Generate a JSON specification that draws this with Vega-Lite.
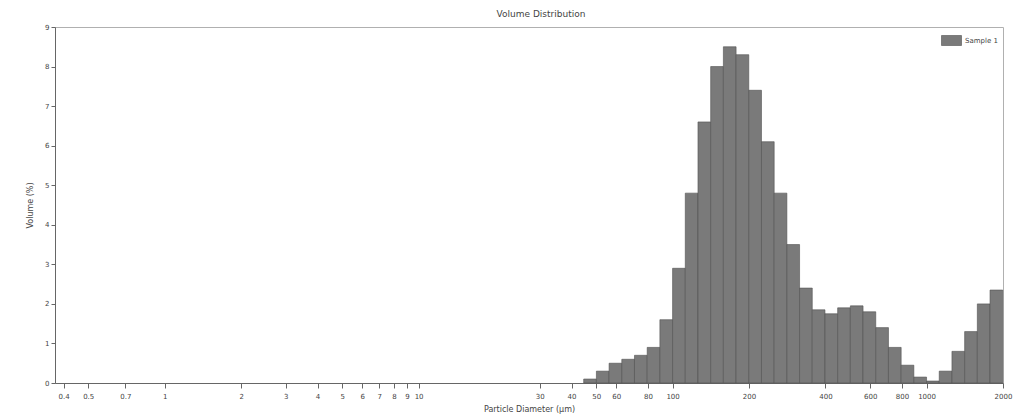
{
  "$schema": "https://vega.github.io/schema/vega-lite/v6.json",
  "autosize": "none",
  "width": 948,
  "height": 356,
  "padding": {"left": 55, "top": 27, "right": 18, "bottom": 33},
  "background": "white",
  "config": {
    "font": "DejaVu Sans",
    "view": {"stroke": "#b0b0b0", "strokeWidth": 1},
    "axis": {"labelFontSize": 7, "titleFontSize": 8, "labelColor": "#444", "titleColor": "#444", "domainColor": "#666", "tickColor": "#666", "grid": false, "titleFontWeight": "normal"}
  },
  "title": {"text": "Volume Distribution", "fontSize": 9, "fontWeight": "normal", "color": "#444", "offset": 4, "anchor": "middle", "dx": 12},
  "data": {"values": [
    {"lo": 44.668, "hi": 50.119, "vol": 0.1, "series": "Sample 1"},
    {"lo": 50.119, "hi": 56.234, "vol": 0.3, "series": "Sample 1"},
    {"lo": 56.234, "hi": 63.096, "vol": 0.5, "series": "Sample 1"},
    {"lo": 63.096, "hi": 70.795, "vol": 0.6, "series": "Sample 1"},
    {"lo": 70.795, "hi": 79.433, "vol": 0.7, "series": "Sample 1"},
    {"lo": 79.433, "hi": 89.125, "vol": 0.9, "series": "Sample 1"},
    {"lo": 89.125, "hi": 100, "vol": 1.6, "series": "Sample 1"},
    {"lo": 100, "hi": 112.2, "vol": 2.9, "series": "Sample 1"},
    {"lo": 112.2, "hi": 125.89, "vol": 4.8, "series": "Sample 1"},
    {"lo": 125.89, "hi": 141.25, "vol": 6.6, "series": "Sample 1"},
    {"lo": 141.25, "hi": 158.49, "vol": 8.0, "series": "Sample 1"},
    {"lo": 158.49, "hi": 177.83, "vol": 8.5, "series": "Sample 1"},
    {"lo": 177.83, "hi": 199.53, "vol": 8.3, "series": "Sample 1"},
    {"lo": 199.53, "hi": 223.87, "vol": 7.4, "series": "Sample 1"},
    {"lo": 223.87, "hi": 251.19, "vol": 6.1, "series": "Sample 1"},
    {"lo": 251.19, "hi": 281.84, "vol": 4.8, "series": "Sample 1"},
    {"lo": 281.84, "hi": 316.23, "vol": 3.5, "series": "Sample 1"},
    {"lo": 316.23, "hi": 354.81, "vol": 2.4, "series": "Sample 1"},
    {"lo": 354.81, "hi": 398.11, "vol": 1.85, "series": "Sample 1"},
    {"lo": 398.11, "hi": 446.68, "vol": 1.75, "series": "Sample 1"},
    {"lo": 446.68, "hi": 501.19, "vol": 1.9, "series": "Sample 1"},
    {"lo": 501.19, "hi": 562.34, "vol": 1.95, "series": "Sample 1"},
    {"lo": 562.34, "hi": 630.96, "vol": 1.8, "series": "Sample 1"},
    {"lo": 630.96, "hi": 707.95, "vol": 1.4, "series": "Sample 1"},
    {"lo": 707.95, "hi": 794.33, "vol": 0.9, "series": "Sample 1"},
    {"lo": 794.33, "hi": 891.25, "vol": 0.45, "series": "Sample 1"},
    {"lo": 891.25, "hi": 1000, "vol": 0.15, "series": "Sample 1"},
    {"lo": 1000, "hi": 1122.0, "vol": 0.05, "series": "Sample 1"},
    {"lo": 1122.0, "hi": 1258.9, "vol": 0.3, "series": "Sample 1"},
    {"lo": 1258.9, "hi": 1412.5, "vol": 0.8, "series": "Sample 1"},
    {"lo": 1412.5, "hi": 1584.9, "vol": 1.3, "series": "Sample 1"},
    {"lo": 1584.9, "hi": 1778.3, "vol": 2.0, "series": "Sample 1"},
    {"lo": 1778.3, "hi": 1995.3, "vol": 2.35, "series": "Sample 1"}
  ]},
  "mark": {"type": "bar", "stroke": "#505050", "strokeWidth": 0.6, "opacity": 1},
  "encoding": {
    "x": {"field": "lo", "type": "quantitative", "title": "Particle Diameter (µm)",
      "scale": {"type": "log", "domain": [0.37, 2000], "nice": false},
      "axis": {"values": [0.4, 0.5, 0.7, 1, 2, 3, 4, 5, 6, 7, 8, 9, 10, 30, 40, 50, 60, 80, 100, 200, 400, 600, 800, 1000, 2000], "format": "~g", "labelOverlap": false, "labelFlush": false, "tickSize": 5, "labelPadding": 4, "titlePadding": 6}},
    "x2": {"field": "hi"},
    "y": {"field": "vol", "type": "quantitative", "title": "Volume (%)",
      "scale": {"domain": [0, 9], "nice": false},
      "axis": {"values": [0, 1, 2, 3, 4, 5, 6, 7, 8, 9], "tickSize": 4, "titlePadding": 10}},
    "y2": {"datum": 0},
    "color": {"field": "series", "type": "nominal", "scale": {"range": ["#7a7a7a"]},
      "legend": {"title": null, "orient": "none", "legendX": 884, "legendY": 1, "symbolType": "M-1,-0.5H1V0.5H-1Z", "symbolSize": 400, "symbolStrokeColor": "#505050", "symbolStrokeWidth": 0.6, "labelFontSize": 7, "labelColor": "#444", "labelOffset": 3, "padding": 2}}
  }
}
